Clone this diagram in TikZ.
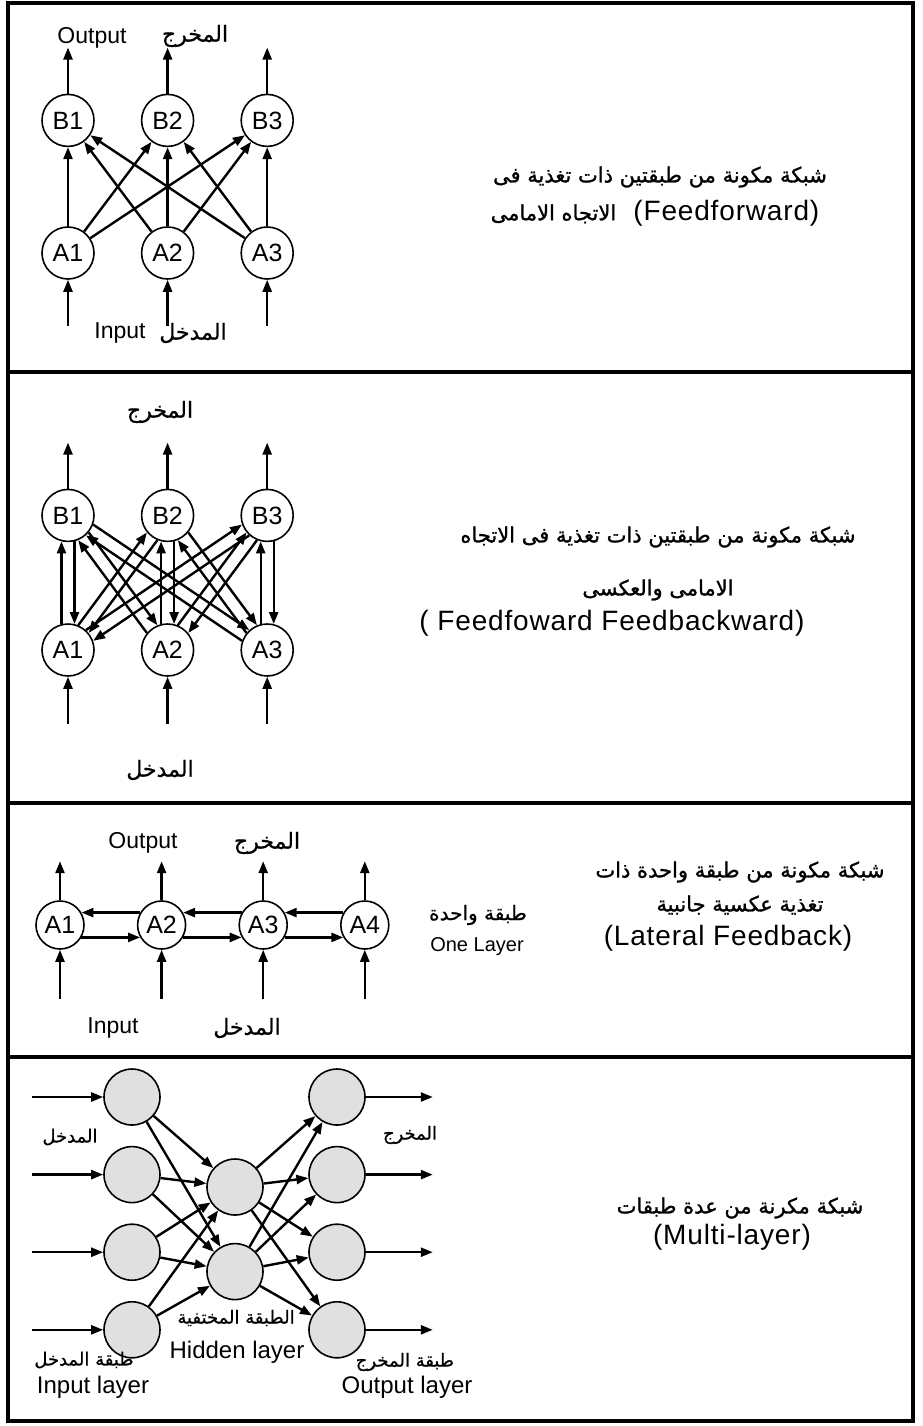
\documentclass[tikz,border=0pt]{standalone}
\usepackage{fontspec}
\setmainfont{Liberation Sans}
\newfontfamily\arabicfont[Script=Arabic,FakeBold=0.8]{DejaVu Sans}
\newfontfamily\arabicbold[Script=Arabic,FakeBold=1.2]{DejaVu Sans}
\newfontfamily\notefont[LetterSpace=3]{Liberation Sans}
\TeXXeTstate=1
\usetikzlibrary{positioning,arrows.meta,calc}

\begin{document}
\begin{tikzpicture}[x=1pt,y=-1pt,
neuron/.style={
circle,draw,line width=1.6pt,
minimum size=52pt,inner sep=0pt,
font=\fontsize{25}{25}\selectfont
},
unit/.style={
circle,draw,line width=1.6pt,
minimum size=56pt,inner sep=0pt,
fill=black!12
},
arrow/.style={-{Triangle[length=12pt,width=9pt]},line width=2.4pt},
frame/.style={line width=3.5pt},
lbl/.style={font=\fontsize{23}{23}\selectfont},
biglbl/.style={font=\fontsize{24}{24}\selectfont},
arlbl/.style={font=\arabicfont\fontsize{22}{22}\selectfont},
smallar/.style={font=\arabicfont\fontsize{18}{18}\selectfont},
note/.style={font=\notefont\fontsize{28}{28}\selectfont},
arnote/.style={font=\arabicbold\fontsize{21}{21}\selectfont}
]
\useasboundingbox (0,0) rectangle (923,1426);

\draw[frame] (8,3) rectangle (913,1421);
\draw[frame] (8,372) -- (913,372);
\draw[frame] (8,803) -- (913,803);
\draw[frame] (8,1057) -- (913,1057);

\node[neuron] (fa1) at (68,253) {A1};
\node[neuron,right=46pt of fa1] (fa2) {A2};
\node[neuron,right=46pt of fa2] (fa3) {A3};
\node[neuron,above=79pt of fa1] (fb1) {B1};
\node[neuron,above=79pt of fa2] (fb2) {B2};
\node[neuron,above=79pt of fa3] (fb3) {B3};
\foreach \i in {1,2,3} {
\coordinate[above=46pt of fb\i] (fo\i);
\coordinate[below=46pt of fa\i] (fi\i);
}
\node[lbl] (foutput) at (92,38) {Output};
\node[arlbl] (fmakhraj) at (195,36) {\beginR المخرج\endR};
\node[lbl] (finput) at (120,333) {Input};
\node[arlbl] (fmadkhal) at (193,333) {\beginR المدخل\endR};
\node[arnote] (ftitle) at (660,177) {\beginR شبكة مكونة من طبقتين ذات تغذية فى\endR};
\node[note] (ftype) at (655,213) {{\arabicbold\fontsize{21}{21}\selectfont\beginR الاتجاه الامامى\endR}\ \ (Feedforward)};

\foreach \i in {1,2,3} {
\draw[arrow] (fb\i) -- (fo\i);
\draw[arrow] (fi\i) -- (fa\i);
\foreach \j in {1,2,3}
\draw[arrow] (fa\i) -- (fb\j);
}

\node[neuron] (ba1) at (68,650) {A1};
\node[neuron,right=46pt of ba1] (ba2) {A2};
\node[neuron,right=46pt of ba2] (ba3) {A3};
\node[neuron,above=81pt of ba1] (bb1) {B1};
\node[neuron,above=81pt of ba2] (bb2) {B2};
\node[neuron,above=81pt of ba3] (bb3) {B3};
\foreach \i in {1,2,3} {
\coordinate[above=46pt of bb\i] (bo\i);
\coordinate[below=47pt of ba\i] (bi\i);
}
\node[arlbl] (bmakhraj) at (160,412) {\beginR المخرج\endR};
\node[arlbl] (bmadkhal) at (160,770) {\beginR المدخل\endR};
\node[arnote] (btitle) at (658,537) {\beginR شبكة مكونة من طبقتين ذات تغذية فى الاتجاه\endR};
\node[arnote] (btitlb) at (658,590) {\beginR الامامى والعكسى\endR};
\node[note] (btype) at (612,623) {( Feedfoward Feedbackward)};

\foreach \i in {1,2,3} {
\draw[arrow] (bb\i) -- (bo\i);
\draw[arrow] (bi\i) -- (ba\i);
\foreach \j in {1,2,3} {
\draw[arrow,shorten <=26pt,shorten >=26pt] ($(ba\i.center)!6.5pt!90:(bb\j.center)$) -- ($(bb\j.center)!6.5pt!-90:(ba\i.center)$);
\draw[arrow,shorten <=26pt,shorten >=26pt] ($(bb\j.center)!6.5pt!90:(ba\i.center)$) -- ($(ba\i.center)!6.5pt!-90:(bb\j.center)$);
}
}

\node[neuron,minimum size=48pt] (la1) at (60,925) {A1};
\node[neuron,minimum size=48pt,right=52pt of la1] (la2) {A2};
\node[neuron,minimum size=48pt,right=52pt of la2] (la3) {A3};
\node[neuron,minimum size=48pt,right=52pt of la3] (la4) {A4};
\foreach \i in {1,...,4} {
\coordinate[above=39pt of la\i] (lo\i);
\coordinate[below=49pt of la\i] (li\i);
\draw[arrow] (la\i) -- (lo\i);
\draw[arrow] (li\i) -- (la\i);
}
\foreach \i/\j in {1/2,2/3,3/4} {
\draw[arrow] (la\j.150) -- (la\i.30);
\draw[arrow] (la\i.-30) -- (la\j.-150);
}
\node[lbl] (loutput) at (143,843) {Output};
\node[arlbl] (lmakhraj) at (267,843) {\beginR المخرج\endR};
\node[lbl] (linput) at (113,1028) {Input};
\node[arlbl] (lmadkhal) at (247,1028) {\beginR المدخل\endR};
\node[smallar,font=\arabicfont\fontsize{20}{20}\selectfont] (lonear) at (478,915) {\beginR طبقة واحدة\endR};
\node[font=\fontsize{20}{20}\selectfont] (lone) at (477,947) {One Layer};
\node[arnote] (ltitle) at (740,872) {\beginR شبكة مكونة من طبقة واحدة ذات\endR};
\node[arnote] (ltitlb) at (740,905) {\beginR تغذية عكسية جانبية\endR};
\node[note] (ltype) at (728,938) {(Lateral Feedback)};

\node[unit] (mi1) at (132,1097) {};
\node[unit,below=20pt of mi1] (mi2) {};
\node[unit,below=20pt of mi2] (mi3) {};
\node[unit,below=20pt of mi3] (mi4) {};
\node[unit] (mh1) at (235,1187) {};
\node[unit,below=27pt of mh1] (mh2) {};
\node[unit] (mo1) at (337,1097) {};
\node[unit,below=20pt of mo1] (mo2) {};
\node[unit,below=20pt of mo2] (mo3) {};
\node[unit,below=20pt of mo3] (mo4) {};
\foreach \i in {1,...,4} {
\coordinate[left=71pt of mi\i] (min\i);
\coordinate[right=67pt of mo\i] (mout\i);
\draw[arrow] (min\i) -- (mi\i);
\draw[arrow] (mo\i) -- (mout\i);
\foreach \j in {1,2} {
\draw[arrow] (mi\i) -- (mh\j);
\draw[arrow] (mh\j) -- (mo\i);
}
}
\node[smallar] (mmadkhal) at (70,1137) {\beginR المدخل\endR};
\node[smallar] (mmakhraj) at (410,1135) {\beginR المخرج\endR};
\node[smallar] (mhiddenar) at (236,1318) {\beginR الطبقة المختفية\endR};
\node[biglbl] (mhidden) at (237,1352) {Hidden layer};
\node[smallar] (minputar) at (84,1360) {\beginR طبقة المدخل\endR};
\node[biglbl] (minput) at (93,1387) {Input layer};
\node[smallar] (moutputar) at (405,1362) {\beginR طبقة المخرج\endR};
\node[biglbl] (moutput) at (407,1387) {Output layer};
\node[arnote] (mtitle) at (740,1208) {\beginR شبكة مكرنة من عدة طبقات\endR};
\node[note] (mtype) at (732,1237) {(Multi-layer)};

\end{tikzpicture}
\end{document}
